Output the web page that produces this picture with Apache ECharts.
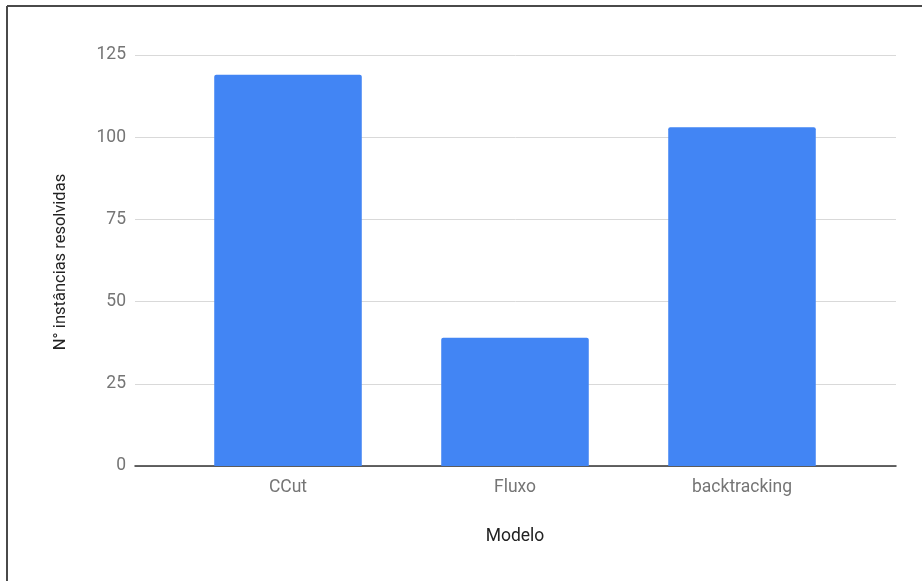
<!DOCTYPE html>
<html>
<head>
<meta charset="utf-8">
<script src="https://cdn.jsdelivr.net/npm/echarts@6/dist/echarts.min.js"></script>
<style>
  html, body { margin: 0; padding: 0; background: #fff; }
  #chart { width: 922px; height: 581px; }
</style>
</head>
<body>
<div id="chart"></div>
<script>
// Solved instances per model
const categories = ['CCut', 'Fluxo', 'backtracking'];
const solved = [119, 39, 103];
const yTicks = [0, 25, 50, 75, 100, 125];

const yMin = yTicks[0];
const yMax = yTicks[yTicks.length - 1];
const yStep = yTicks[1] - yTicks[0];

const chart = echarts.init(document.getElementById('chart'), null, { renderer: 'canvas' });

chart.setOption({
  animation: false,
  backgroundColor: '#ffffff',
  textStyle: { fontFamily: 'Roboto' },
  grid: [
    // wide grid: gridlines, baseline and value labels
    { left: 135, right: 26, top: 55, bottom: 115 },
    // inner grid: the bars and category labels
    { left: 174.5, right: 66.5, top: 55, bottom: 115 }
  ],
  xAxis: [
    {
      gridIndex: 0, type: 'value', min: 0, max: 1,
      axisLine: { show: true, onZero: false, lineStyle: { color: '#333333', width: 1.5 } },
      axisTick: { show: false }, axisLabel: { show: false }, splitLine: { show: false }
    },
    {
      gridIndex: 1, type: 'category', data: categories,
      axisLine: { show: false }, axisTick: { show: false },
      axisLabel: { color: '#757575', fontSize: 17.5, margin: 13, fontFamily: 'Roboto' }
    }
  ],
  yAxis: [
    {
      gridIndex: 0, type: 'value', min: yMin, max: yMax, interval: yStep,
      axisLine: { show: false }, axisTick: { show: false },
      axisLabel: { color: '#757575', fontSize: 17.5, margin: 9, fontFamily: 'Roboto' },
      splitLine: { lineStyle: { color: '#d9d9d9', width: 1 } }
    },
    {
      gridIndex: 1, type: 'value', min: yMin, max: yMax, interval: yStep,
      axisLine: { show: false }, axisTick: { show: false },
      axisLabel: { show: false }, splitLine: { show: false }
    }
  ],
  series: [
    {
      type: 'bar',
      xAxisIndex: 1, yAxisIndex: 1,
      data: solved,
      barWidth: '65%',
      itemStyle: { color: '#4285F4', borderRadius: [2, 2, 0, 0] },
      z: 3
    }
  ],
  graphic: [
    {
      type: 'text',
      rotation: Math.PI / 2,
      x: 61, y: 262,
      style: {
        text: 'N° instâncias resolvidas',
        fill: '#222222', font: '16.5px Roboto',
        align: 'center', verticalAlign: 'middle'
      }
    },
    {
      type: 'text',
      x: 515, y: 537,
      style: {
        text: 'Modelo', fill: '#222222', font: '17.5px Roboto',
        align: 'center', verticalAlign: 'middle'
      }
    },
    {
      type: 'line',
      shape: { x1: 7, y1: 6, x2: 922, y2: 6 },
      style: { stroke: '#4a4a4a', lineWidth: 2 }
    },
    {
      type: 'line',
      shape: { x1: 7, y1: 6, x2: 7, y2: 581 },
      style: { stroke: '#4a4a4a', lineWidth: 2 }
    }
  ]
});
</script>
</body>
</html>
